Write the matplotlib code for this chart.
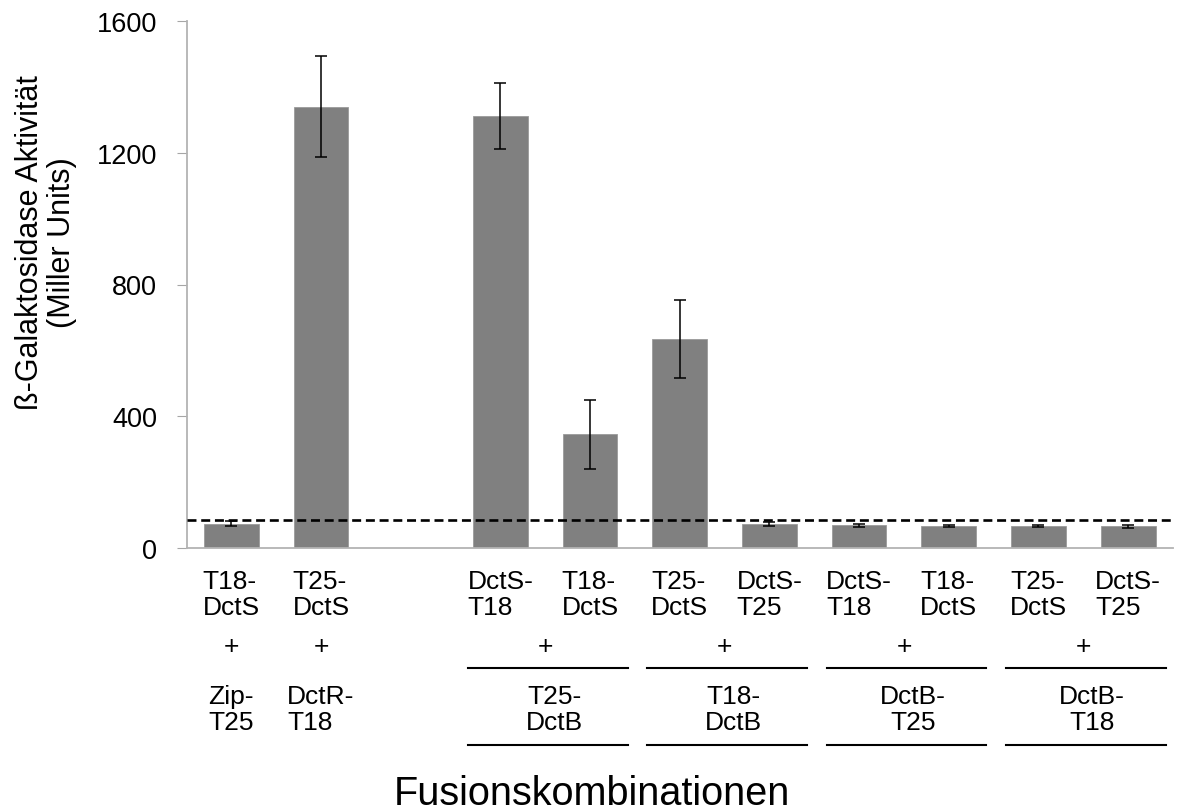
import numpy as np
import matplotlib
matplotlib.use("Agg")
import matplotlib.pyplot as plt
from matplotlib import transforms
from matplotlib.lines import Line2D

plt.rcParams["font.family"] = ["Liberation Sans", "DejaVu Sans"]

# bait constructs (x tick labels)
categories = ["T18-\nDctS", "T25-\nDctS",
              "DctS-\nT18", "T18-\nDctS", "T25-\nDctS", "DctS-\nT25",
              "DctS-\nT18", "T18-\nDctS", "T25-\nDctS", "DctS-\nT25"]
# beta-galactosidase activity (Miller units) and error
values = [74, 1340, 1312, 345, 635, 74, 69, 66, 67, 66]
errors = [8, 153, 100, 105, 118, 6, 4, 3, 4, 4]
# prey constructs: two controls, then four groups of two bars
partners = ["Zip-\nT25", "DctR-\nT18", "T25-\nDctB", "T18-\nDctB", "DctB-\nT25", "DctB-\nT18"]
partner_sizes = [1, 1, 2, 2, 2, 2]
threshold = 85
yticks = [0, 400, 800, 1200, 1600]

W, H = 1180, 812
fig = plt.figure(figsize=(W / 100, H / 100), dpi=100)
ax = fig.add_axes([186.5 / W, 1 - 549 / H, (1173 - 186.5) / W, (549 - 22) / H])

# positions: controls first, one empty slot, then the groups
x = np.array(list(range(2)) + list(range(3, 3 + len(categories) - 2)))

ax.bar(x, values, width=0.61, color="#808080", edgecolor="#9a9a9a", linewidth=0.6, zorder=2)
ax.errorbar(x, values, yerr=errors, fmt="none", ecolor="black", elinewidth=1.1,
            capsize=4.5, capthick=1.1, zorder=3)
ax.axhline(threshold, color="black", linestyle=(0, (3.4, 1.8)), linewidth=1.9, zorder=4)

ax.set_xlim(-0.5, len(categories) + 0.5)
ax.set_ylim(0, 1600)
ax.set_yticks(yticks)
ax.set_yticklabels([str(t) for t in yticks], fontsize=19.5)
ax.tick_params(axis="y", direction="out", length=7, color="#a6a6a6", pad=14)
ax.set_xticks([])
for s in ["top", "right"]:
    ax.spines[s].set_visible(False)
for s in ["left", "bottom"]:
    ax.spines[s].set_color("#b3b3b3")
    ax.spines[s].set_linewidth(1.3)

trans = transforms.blended_transform_factory(ax.transData, fig.transFigure)
fy = lambda px: 1 - px / H

# bait labels
for xi, lab in zip(x, categories):
    ax.text(xi, fy(570), lab, transform=trans, ha="center", va="top", fontsize=19,
            multialignment="left", linespacing=1.08)

# "+" and prey labels
start = 0
for name, n in zip(partners, partner_sizes):
    xs = x[start:start + n]
    xc = xs.mean()
    ax.text(xc, fy(647), "+", transform=trans, ha="center", va="center", fontsize=19)
    ax.text(xc + (0.1 if n > 1 else 0), fy(685), name, transform=trans, ha="center", va="top",
            fontsize=19, multialignment="center" if n > 1 else "left", linespacing=1.08)
    if n > 1:
        x0, x1 = xs[0] - 0.36, xs[-1] + 0.42
        for ypx in (669, 746):
            fig.add_artist(Line2D([x0, x1], [fy(ypx), fy(ypx)], transform=trans,
                                  color="black", linewidth=1.5, clip_on=False))
    start += n

fig.text(592 / W, fy(805), "Fusionskombinationen", ha="center", va="baseline", fontsize=28.5)
fig.text(46 / W, fy(243), "ß-Galaktosidase Aktivität\n(Miller Units)", rotation=90,
         ha="center", va="center", fontsize=22, multialignment="center", linespacing=1.05)

fig.savefig("out.png", dpi=100)
